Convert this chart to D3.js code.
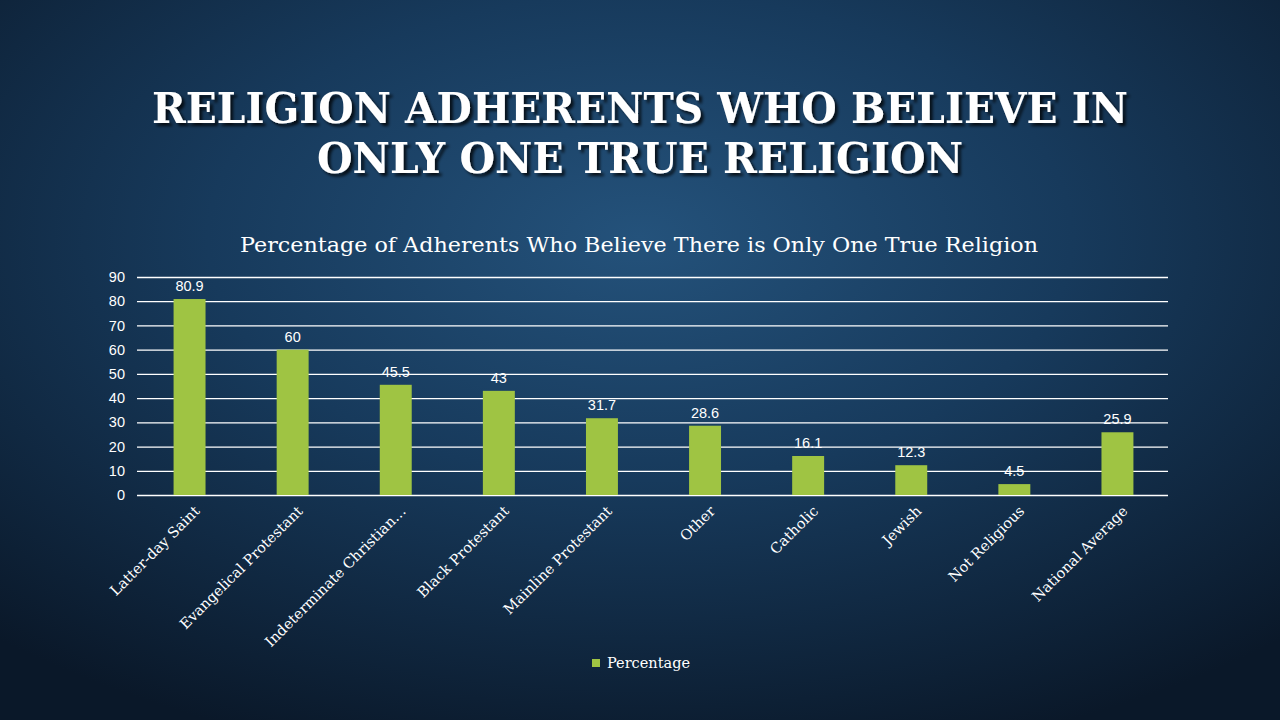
<!DOCTYPE html>
<html><head><meta charset="utf-8">
<script src="https://cdn.jsdelivr.net/npm/d3@7"></script>
<style>html,body{margin:0;padding:0;background:#0d1f35;}svg{display:block;}</style>
</head><body>
<svg id="c" width="1280" height="720"></svg>
<script>
const categories = ["Latter-day Saint","Evangelical Protestant","Indeterminate Christian…","Black Protestant","Mainline Protestant","Other","Catholic","Jewish","Not Religious","National Average"];
const values = [80.9,60,45.5,43,31.7,28.6,16.1,12.3,4.5,25.9];
const valueLabels = ["80.9","60","45.5","43","31.7","28.6","16.1","12.3","4.5","25.9"];
const yTicks = [0,10,20,30,40,50,60,70,80,90];
const titleLines = ["RELIGION ADHERENTS WHO BELIEVE IN","ONLY ONE TRUE RELIGION"];
const chartTitle = "Percentage of Adherents Who Believe There is Only One True Religion";
const seriesName = "Percentage";

const svg = d3.select("#c");
const defs = svg.append("defs");
const rg = defs.append("radialGradient").attr("id","bg").attr("cx","50%").attr("cy","33%").attr("r","75%").attr("fx","50%").attr("fy","33%");
rg.append("stop").attr("offset","0%").attr("stop-color","#24527b");
rg.append("stop").attr("offset","45%").attr("stop-color","#173a5c");
rg.append("stop").attr("offset","100%").attr("stop-color","#0a1829");
svg.append("rect").attr("width",1280).attr("height",720).attr("fill","url(#bg)");

const sh = defs.append("filter").attr("id","shadow").attr("x","-5%").attr("y","-20%").attr("width","110%").attr("height","150%");
sh.append("feDropShadow").attr("dx",3).attr("dy",3).attr("stdDeviation",1.5).attr("flood-color","#000").attr("flood-opacity",0.75);

const serif = "Rockwell, 'DejaVu Serif', serif";
const sans = "Arial, 'Liberation Sans', sans-serif";

// Main title
const tLens = [976, 646];
const tBase = [123, 173];
titleLines.forEach((t,i)=>{
  svg.append("text").attr("x",640).attr("y",tBase[i]).attr("text-anchor","middle")
    .attr("font-family",serif).attr("font-weight","bold").attr("font-size",43)
    .attr("fill","#ffffff").attr("filter","url(#shadow)")
    .attr("textLength",tLens[i]).attr("lengthAdjust","spacingAndGlyphs").text(t);
});

// Chart title
svg.append("text").attr("x",639).attr("y",252).attr("text-anchor","middle")
  .attr("font-family",serif).attr("font-size",20.5).attr("fill","#ffffff")
  .attr("textLength",798).attr("lengthAdjust","spacingAndGlyphs").text(chartTitle);

const x0 = 137, x1 = 1168, yTop = 277, yBot = 495;
const x = d3.scaleBand().domain(categories).range([x0,x1]).paddingInner(0.69).paddingOuter(0.345);
const y = d3.scaleLinear().domain([0,90]).range([yBot,yTop]);

// gridlines
const yAxis = d3.axisLeft(y).tickValues(yTicks).tickSize(-(x1-x0)).tickPadding(12).tickFormat(d3.format("d"));
const ga = svg.append("g").attr("transform",`translate(${x0},0)`).call(yAxis);
ga.select(".domain").remove();
ga.selectAll(".tick line").attr("stroke","#ffffff").attr("stroke-width",1.3);
ga.selectAll(".tick text").attr("fill","#ffffff").attr("font-family",sans).attr("font-size",14.5);

// bars
svg.append("g").selectAll("rect").data(values).join("rect")
  .attr("x",(d,i)=>x(categories[i])+1).attr("width",x.bandwidth())
  .attr("y",d=>y(d)).attr("height",d=>yBot-y(d)).attr("fill","#9fc443");

// value labels
svg.append("g").selectAll("text").data(values).join("text")
  .attr("x",(d,i)=>x(categories[i])+1+x.bandwidth()/2).attr("y",d=>y(d)-8)
  .attr("text-anchor","middle").attr("font-family",sans).attr("font-size",14.5).attr("fill","#ffffff")
  .text((d,i)=>valueLabels[i]);

// x axis labels
const xAxis = d3.axisBottom(x).tickSize(0).tickPadding(0);
const gx = svg.append("g").attr("transform",`translate(0,${yBot})`).call(xAxis);
gx.select(".domain").remove();
gx.selectAll(".tick text")
  .attr("font-family",serif).attr("font-size",14.5).attr("fill","#ffffff")
  .attr("text-anchor","end").attr("dy",0).attr("y",0)
  .attr("transform","translate(12,17) rotate(-45)");

// legend
const lg = svg.append("g");
lg.append("rect").attr("x",592).attr("y",659).attr("width",8).attr("height",8).attr("fill","#9fc443");
lg.append("text").attr("x",607).attr("y",668).attr("font-family",serif).attr("font-size",14.5).attr("fill","#ffffff").text(seriesName);
</script>
</body></html>
